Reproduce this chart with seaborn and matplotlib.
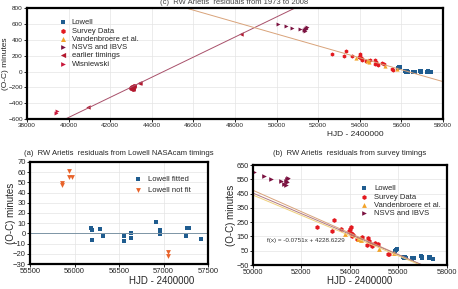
import numpy as np
import pandas as pd
import seaborn as sns
import matplotlib.pyplot as plt

# ---- data (O-C residuals, minutes) ----
lowell_x = [55850, 55900, 55950, 56190, 56200, 56210, 56290, 56315, 56555, 56560,
            56637, 56640, 56911, 56960, 56965, 57249, 57268, 57290, 57420]
lowell_y = [45, 55, 60, 5, 3, -4, 4, -3, -2, -8, 0, -4, 11, 4, -1, -3, 5, 5, -6]

survey_x = [52650, 53250, 53330, 53650, 53950, 54000, 54030, 54050, 54080, 54100,
            54120, 54300, 54500, 54750, 54780, 54720, 54850, 54900, 55050, 55150,
            55550, 55600]
survey_y = [215, 190, 265, 200, 185, 200, 215, 175, 165, 150, 160, 130, 145, 140,
            120, 90, 100, 85, 105, 100, 30, 25]

vand_x = [53800, 54350, 54400, 54450, 55200, 55800]
vand_y = [170, 130, 140, 125, 65, 35]

nsvs_x = [50050, 50450, 50750, 51150, 51300, 51350, 51380, 51400, 51420, 51450]
nsvs_y = [600, 570, 555, 540, 520, 510, 540, 530, 550, 560]

earlier_x = [40950, 43020, 43060, 43100, 43140, 43400, 43450, 48300]
earlier_y = [-445, -205, -190, -215, -185, -150, -140, 475]

wisn_x = [39400, 39450]
wisn_y = [-520, -500]

# Lowell NASAcam residuals
fit_x = [56180, 56200, 56195, 56290, 56315, 56555, 56555, 56637, 56637, 56911,
         56960, 56960, 57249, 57268, 57290, 57420]
fit_y = [5, 3, -6, 4, -3, -2.5, -7.7, 0.5, -4.4, 11.3, 3.8, -0.8, -3, 5, 5.4, -5.7]
notfit_x = [55856, 55856, 55935, 55935, 55977, 57050, 57050]
notfit_y = [49, 47.5, 61, 55.6, 55.6, -18.2, -22]

# linear fits (slope, intercept)
fit_decl = (-0.0751, 4228.6229)
fit_rise = (0.1268, -5651.7)
fit_b2 = (-0.0721, 4059.0)
fit_b3 = (-0.0710, 3990.0)

C_LOW = "#1f5c8f"
C_SUR = "#e3191f"
C_VAN = "#f2a32a"
C_NSV = "#7b1240"
C_EAR = "#b3182e"
C_WIS = "#c8173a"
C_NOT = "#e8632b"

sns.set_theme(style="whitegrid")
plt.rcParams['font.family'] = ['Liberation Sans', 'DejaVu Sans']

fig = plt.figure(figsize=(4.58, 2.89), dpi=100)


def frame(ax, fs):
    for s in ax.spines.values():
        s.set_color("black")
        s.set_linewidth(1.6)
    ax.grid(True, color="#e4e4e4", linewidth=0.5)
    ax.tick_params(axis="both", labelsize=fs, length=2, width=0.6, pad=1,
                   left=True, bottom=True, color="black")


def line(ax, coef, x0, x1, color, lw=0.7):
    xs = np.array([x0, x1])
    sns.lineplot(x=xs, y=coef[0] * xs + coef[1], ax=ax, color=color, linewidth=lw)


# ---- top panel ----
ax1 = fig.add_axes([0.059, 0.588, 0.908, 0.384])
line(ax1, fit_rise, 38000, 58000, "#a8506a")
line(ax1, fit_decl, 38000, 58000, "#d9a37a")
sns.scatterplot(x=lowell_x, y=lowell_y, ax=ax1, marker="s", color=C_LOW, s=8, linewidth=0, label="Lowell")
sns.scatterplot(x=survey_x, y=survey_y, ax=ax1, marker="h", color=C_SUR, s=9, linewidth=0, label="Survey Data")
sns.scatterplot(x=vand_x, y=vand_y, ax=ax1, marker="^", color=C_VAN, s=9, linewidth=0, label="Vandenbroere et al.")
sns.scatterplot(x=nsvs_x, y=nsvs_y, ax=ax1, marker=">", color=C_NSV, s=8, linewidth=0, label="NSVS and IBVS")
sns.scatterplot(x=earlier_x, y=earlier_y, ax=ax1, marker="<", color=C_EAR, s=10, linewidth=0, label="earlier timings")
sns.scatterplot(x=wisn_x, y=wisn_y, ax=ax1, marker=">", color=C_WIS, s=8, linewidth=0, label="Wisniewski")
sns.scatterplot(x=earlier_x[1:5], y=earlier_y[1:5], ax=ax1, marker="o", color=C_EAR, s=12, linewidth=0)
ax1.set_xlim(38000, 58000)
ax1.set_ylim(-600, 800)
ax1.set_xticks(range(38000, 58001, 2000))
ax1.set_yticks(range(-600, 801, 200))
frame(ax1, 4.6)
ax1.set_ylabel("(O-C) minutes", fontsize=6)
ax1.yaxis.set_label_coords(-0.044, 0.5)
ax1.set_xlabel("HJD - 2400000", fontsize=6, labelpad=0)
ax1.xaxis.set_label_coords(0.79, -0.11)
ax1.legend(loc="upper left", bbox_to_anchor=(0.06, 0.93), frameon=False, fontsize=5.5,
           handletextpad=0.2, labelspacing=0.12, markerscale=1.2, borderaxespad=0)
fig.text(0.51, 0.992, "(c)  RW Arietis  residuals from 1973 to 2008", ha="center",
         va="center", fontsize=5.5, color="#444444")

# ---- bottom left ----
ax2 = fig.add_axes([0.0655, 0.0865, 0.389, 0.353])
ax2.axhline(0, color="#7d95a5", linewidth=0.7)
sns.scatterplot(x=fit_x, y=fit_y, ax=ax2, marker="s", color=C_LOW, s=12, linewidth=0, label="Lowell fitted")
sns.scatterplot(x=notfit_x, y=notfit_y, ax=ax2, marker="v", color=C_NOT, s=12, linewidth=0, label="Lowell not fit")
ax2.set_xlim(55500, 57500)
ax2.set_ylim(-30, 70)
ax2.set_xticks(range(55500, 57501, 500))
ax2.set_yticks(range(-30, 71, 10))
frame(ax2, 5.5)
ax2.set_ylabel("(O-C) minutes", fontsize=7)
ax2.yaxis.set_label_coords(-0.08, 0.5)
ax2.set_xlabel("HJD - 2400000", fontsize=7)
ax2.xaxis.set_label_coords(0.74, -0.115)
ax2.legend(loc="upper right", bbox_to_anchor=(0.92, 0.9), frameon=False, fontsize=5.5,
           handletextpad=0.3, labelspacing=0.5, borderaxespad=0)
ax2.set_title("(a)  RW Arietis  residuals from Lowell NASAcam timings", fontsize=5.5, pad=5)

# ---- bottom right ----
ax3 = fig.add_axes([0.552, 0.083, 0.424, 0.346])
line(ax3, fit_decl, 50000, 58000, "#d9a37a")
line(ax3, fit_b2, 50000, 58000, "#b07a85")
line(ax3, fit_b3, 50000, 58000, "#efcf7a")
sns.scatterplot(x=lowell_x, y=lowell_y, ax=ax3, marker="s", color=C_LOW, s=10, linewidth=0, label="Lowell")
sns.scatterplot(x=survey_x, y=survey_y, ax=ax3, marker="h", color=C_SUR, s=12, linewidth=0, label="Survey Data")
sns.scatterplot(x=vand_x, y=vand_y, ax=ax3, marker="^", color=C_VAN, s=12, linewidth=0, label="Vandenbroere et al.")
sns.scatterplot(x=nsvs_x, y=nsvs_y, ax=ax3, marker=">", color=C_NSV, s=11, linewidth=0, label="NSVS and IBVS")
ax3.set_xlim(50000, 58000)
ax3.set_ylim(-50, 650)
ax3.set_xticks(range(50000, 58001, 2000))
ax3.set_yticks(range(-50, 651, 100))
frame(ax3, 5.3)
ax3.set_ylabel("(O-C) minutes", fontsize=7)
ax3.yaxis.set_label_coords(-0.085, 0.5)
ax3.set_xlabel("HJD - 2400000", fontsize=7)
ax3.xaxis.set_label_coords(0.55, -0.11)
ax3.legend(loc="upper left", bbox_to_anchor=(0.52, 0.83), frameon=False, fontsize=5.5,
           handletextpad=0.3, labelspacing=0.12, borderaxespad=0)
ax3.text(50600, 112, "f(x) = -0.0751x + 4228.6229", fontsize=4.5, color="#333333")
ax3.set_title("(b)  RW Arietis  residuals from survey timings", fontsize=5.5, pad=7)

fig.savefig("out.png", dpi=100)
